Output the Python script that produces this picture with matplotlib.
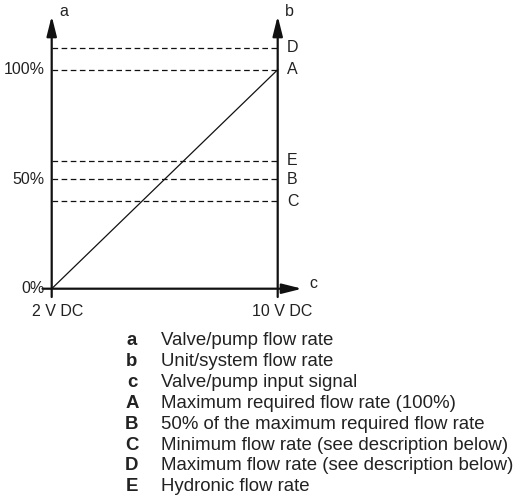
import matplotlib.pyplot as plt

plt.rcParams['font.family'] = ['Liberation Sans', 'DejaVu Sans']

# signal range (V DC) and reference flow levels (%)
signal = [2, 10]
flow = [0, 100]
level_names = ["D", "A", "E", "B", "C"]
level_values = [110, 100, 58.5, 50, 40]
tick_values = [0, 50, 100]
tick_labels = ["0%", "50%", "100%"]
signal_labels = ["2 V DC", "10 V DC"]

legend_keys = ["a", "b", "c", "A", "B", "C", "D", "E"]
legend_texts = [
    "Valve/pump flow rate",
    "Unit/system flow rate",
    "Valve/pump input signal",
    "Maximum required flow rate (100%)",
    "50% of the maximum required flow rate",
    "Minimum flow rate (see description below)",
    "Maximum flow rate (see description below)",
    "Hydronic flow rate",
]

W, H = 515, 499
fig = plt.figure(figsize=(W / 100, H / 100), dpi=100)
ax = fig.add_axes([0, 0, 1, 1])

# map data to pixel positions of the reference
x0px, x1px = 51.7, 277.7
y0px, y100px = 288.7, 69.7
sx = (x1px - x0px) / (signal[1] - signal[0])
sy = (y0px - y100px) / 100.0
ax.set_xlim(signal[0] - x0px / sx, signal[0] + (W - x0px) / sx)
ax.set_ylim((y0px - H) / sy, y0px / sy)
ax.axis("off")

ink = "#111111"
txt = "#222222"
fs = 11.5

def px_x(p):
    return signal[0] + (p - x0px) / sx

def px_y(p):
    return (y0px - p) / sy

# dashed reference levels
for name, val in zip(level_names, level_values):
    ax.plot(signal, [val, val], color=ink, lw=0.9, ls=(0, (4.5, 2.8)))
    ax.text(px_x(287), val, name, fontsize=fs, color=txt, ha="left", va="center")

# characteristic
ax.plot(signal, flow, color=ink, lw=0.9)

# axes with arrows
arrow = dict(arrowstyle="-|>,head_length=1.2,head_width=0.3", color=ink, lw=1.6,
             shrinkA=0, shrinkB=0, mutation_scale=10)
for xv in signal:
    ax.annotate("", xy=(xv, px_y(16)), xytext=(xv, px_y(297)), arrowprops=arrow)
ax.annotate("", xy=(px_x(302), 0), xytext=(px_x(42.5), 0), arrowprops=arrow)

# axis names
ax.text(px_x(59), px_y(12), "a", fontsize=fs, color=txt, ha="left", va="center")
ax.text(px_x(285), px_y(12), "b", fontsize=fs, color=txt, ha="left", va="center")
ax.text(px_x(309), px_y(283), "c", fontsize=fs, color=txt, ha="left", va="center")

for val, lab in zip(tick_values, tick_labels):
    ax.text(px_x(45), val, lab, fontsize=fs, color=txt, ha="right", va="center")

for xv, lab, cx in zip(signal, signal_labels, [58, 281.7]):
    ax.text(px_x(cx), px_y(311.5), lab, fontsize=fs, color=txt, ha="center", va="center")

# legend
for i, (k, t) in enumerate(zip(legend_keys, legend_texts)):
    ypx = 340.5 + 20.9 * i
    fig.text(132 / W, 1 - ypx / H, k, fontsize=13.4, fontweight="bold", color=txt,
             ha="center", va="center")
    fig.text(161 / W, 1 - ypx / H, t, fontsize=13.4, color=txt, ha="left", va="center")

fig.savefig("out.png", dpi=100)
